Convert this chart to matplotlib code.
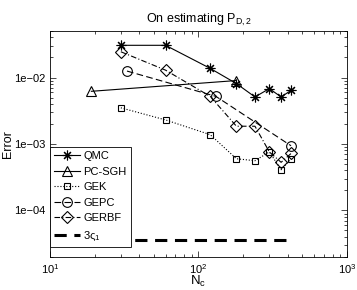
import matplotlib
matplotlib.use("Agg")
import matplotlib.pyplot as plt
from matplotlib.ticker import LogLocator, FixedLocator, NullFormatter

plt.rcParams['font.family'] = ['Liberation Sans', 'DejaVu Sans']
plt.rcParams['mathtext.fontset'] = 'custom'
plt.rcParams['mathtext.rm'] = 'Liberation Sans'
plt.rcParams['mathtext.it'] = 'Liberation Sans'

qmc_x = [30, 60, 120, 180, 240, 300, 360, 420]
qmc_y = [0.0305, 0.0305, 0.0137, 0.0081, 0.0051, 0.0068, 0.0051, 0.0064]

pcsgh_x = [19, 180]
pcsgh_y = [0.0062, 0.0090]

gek_x = [30, 60, 120, 180, 240, 300, 360, 420]
gek_y = [0.0035, 0.0023, 0.00138, 0.00060, 0.00056, 0.00076, 0.00041, 0.00060]

gepc_x = [33, 131, 420]
gepc_y = [0.0125, 0.0052, 0.00094]

gerbf_x = [30, 60, 120, 180, 240, 300, 360, 420]
gerbf_y = [0.0244, 0.0129, 0.0052, 0.00185, 0.00185, 0.00076, 0.00053, 0.00072]

sig_x = [20, 420]
sig_y = [3.6e-5, 3.6e-5]

fig = plt.figure(figsize=(3.57, 2.9), dpi=100)
ax = fig.add_axes([0.140, 0.114, 0.832, 0.779])

lw = 0.8
ax.plot(qmc_x, qmc_y, '-', color='k', lw=lw, marker=(8, 2, 0), ms=7, mew=0.8, label='QMC')
ax.plot(pcsgh_x, pcsgh_y, '-', color='k', lw=lw, marker='^', ms=7, mfc='none', mew=0.8, label='PC-SGH')
ax.plot(gek_x, gek_y, ':', color='k', lw=lw, marker='s', ms=5, mfc='none', mew=0.8, label='GEK')
ax.plot(gepc_x, gepc_y, '--', color='k', lw=lw, marker='o', ms=7, mfc='none', mew=0.8,
        dashes=(6, 3), label='GEPC')
ax.plot(gerbf_x, gerbf_y, '-.', color='k', lw=lw, marker='D', ms=6, mfc='none', mew=0.8,
        dashes=(5, 2, 1, 2), label='GERBF')
ax.plot(sig_x, sig_y, '--', color='k', lw=2.2, dashes=(4, 2.5), label='3ς$_1$')

ax.set_xscale('log')
ax.set_yscale('log')
ax.set_xlim(10, 1000)
ax.set_ylim(2e-5, 5e-2)

ax.yaxis.set_major_locator(FixedLocator([1e-4, 1e-3, 1e-2]))
ax.set_yticklabels(['1e\u221204', '1e\u221203', '1e\u221202'])
ax.yaxis.set_minor_locator(LogLocator(base=10, subs=range(2, 10), numticks=20))
ax.yaxis.set_minor_formatter(NullFormatter())
ax.xaxis.set_major_locator(FixedLocator([10, 100, 1000]))
ax.set_xticklabels(['$10^1$', '$10^2$', '$10^3$'])
ax.xaxis.set_minor_locator(LogLocator(base=10, subs=range(2, 10), numticks=20))
ax.xaxis.set_minor_formatter(NullFormatter())

ax.tick_params(which='both', direction='in', top=True, right=True, labelsize=8, width=0.5)
ax.tick_params(which='major', length=4)
ax.tick_params(which='minor', length=2)
for s in ax.spines.values():
    s.set_linewidth(0.6)

ax.set_title('On estimating P$_{\\mathrm{D,2}}$', fontsize=9, pad=6)
ax.set_xlabel('N$_\\mathrm{c}$', fontsize=9.5, labelpad=-1)
ax.set_ylabel('Error', fontsize=9, labelpad=0)

leg = ax.legend(loc='lower left', bbox_to_anchor=(0, 0.044), borderaxespad=0, fontsize=8,
                fancybox=False, framealpha=1, edgecolor='k', handlelength=2.3,
                handletextpad=0.3, labelspacing=0.5, borderpad=0.4)
leg.get_frame().set_linewidth(0.6)

fig.savefig('out.png', dpi=100)
